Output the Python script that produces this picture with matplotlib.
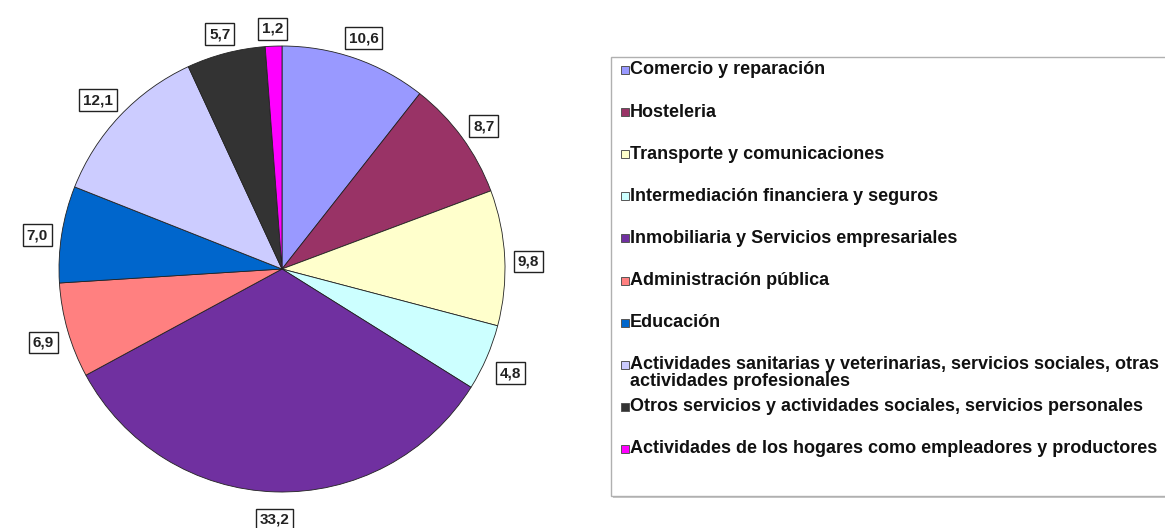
import numpy as np
import matplotlib
matplotlib.use("Agg")
import matplotlib.pyplot as plt
from matplotlib.patches import Rectangle

categories = [
    "Comercio y reparación",
    "Hosteleria",
    "Transporte y comunicaciones",
    "Intermediación financiera y seguros",
    "Inmobiliaria y Servicios empresariales",
    "Administración pública",
    "Educación",
    "Actividades sanitarias y veterinarias, servicios sociales, otras\nactividades profesionales",
    "Otros servicios y actividades sociales, servicios personales",
    "Actividades de los hogares como empleadores y productores",
]
values = [10.6, 8.7, 9.8, 4.8, 33.2, 6.9, 7.0, 12.1, 5.7, 1.2]
value_labels = ["10,6", "8,7", "9,8", "4,8", "33,2", "6,9", "7,0", "12,1", "5,7", "1,2"]
colors = ["#9999FF", "#993366", "#FFFFCC", "#CCFFFF", "#7030A0",
          "#FF8080", "#0066CC", "#CCCCFF", "#333333", "#FF00FF"]

W, H = 1165, 528
fig = plt.figure(figsize=(W / 100, H / 100), dpi=100)
plt.rcParams['font.family'] = ['Liberation Sans', 'DejaVu Sans']

# pie axes: center (282, 269) px, radius 223 px
cx, cy, R = 282, 269, 223
half = 300
ax = fig.add_axes([(cx - half) / W, (H - cy - half) / H, 2 * half / W, 2 * half / H])

wedges, _ = ax.pie(values, colors=colors, startangle=90, counterclock=False,
                   radius=1.0, wedgeprops=dict(edgecolor='#222222', linewidth=0.6))
L = half / R
ax.set_xlim(-L, L)
ax.set_ylim(-L, L)
ax.set_aspect('equal')
ax.axis('off')

# value labels outside end
total = sum(values)
cum = 0.0
for v, lab in zip(values, value_labels):
    mid = cum + v / 2
    cum += v
    ang = np.deg2rad(90 - 360 * mid / total)
    c, s = np.cos(ang), np.sin(ang)
    hw = 4.0 * len(lab)
    hh = 11
    r = 1 + (11 + abs(c) * hw + abs(s) * hh) / R
    ax.text(r * c, r * s - 5 / R, lab, ha='center', va='center', fontsize=11,
            fontweight='bold', color='#222222',
            bbox=dict(boxstyle='square,pad=0.25', facecolor='white',
                      edgecolor='#222222', linewidth=1.0))

# legend box
lx0, lx1, ly0, ly1 = 611, 1172, 57, 496
fig.patches.append(Rectangle((lx0 / W + 0.0015, 1 - (ly1 + 2) / H), (lx1 - lx0) / W, (ly1 - ly0) / H,
                             transform=fig.transFigure, facecolor='#c8c8c8', edgecolor='none', zorder=0))
fig.patches.append(Rectangle((lx0 / W, 1 - ly1 / H), (lx1 - lx0) / W, (ly1 - ly0) / H,
                             transform=fig.transFigure, facecolor='white', edgecolor='#b0b0b0',
                             linewidth=1.0, zorder=1))

y0, dy = 70, 42.1
msz = 8
for i, (cat, col) in enumerate(zip(categories, colors)):
    y = y0 + dy * i
    fig.patches.append(Rectangle((621 / W, 1 - (y + msz / 2) / H), msz / W, msz / H,
                                 transform=fig.transFigure, facecolor=col, edgecolor='#555555',
                                 linewidth=0.7, zorder=3))
    if "\n" in cat:
        fig.text(630 / W, 1 - (y - 9) / H, cat, ha='left', va='top', fontsize=13,
                 fontweight='bold', color='#111111', linespacing=1.0, zorder=4)
    else:
        fig.text(630 / W, 1 - y / H, cat, ha='left', va='center', fontsize=13,
                 fontweight='bold', color='#111111', zorder=4)

fig.savefig("out.png", dpi=100, facecolor='white')
